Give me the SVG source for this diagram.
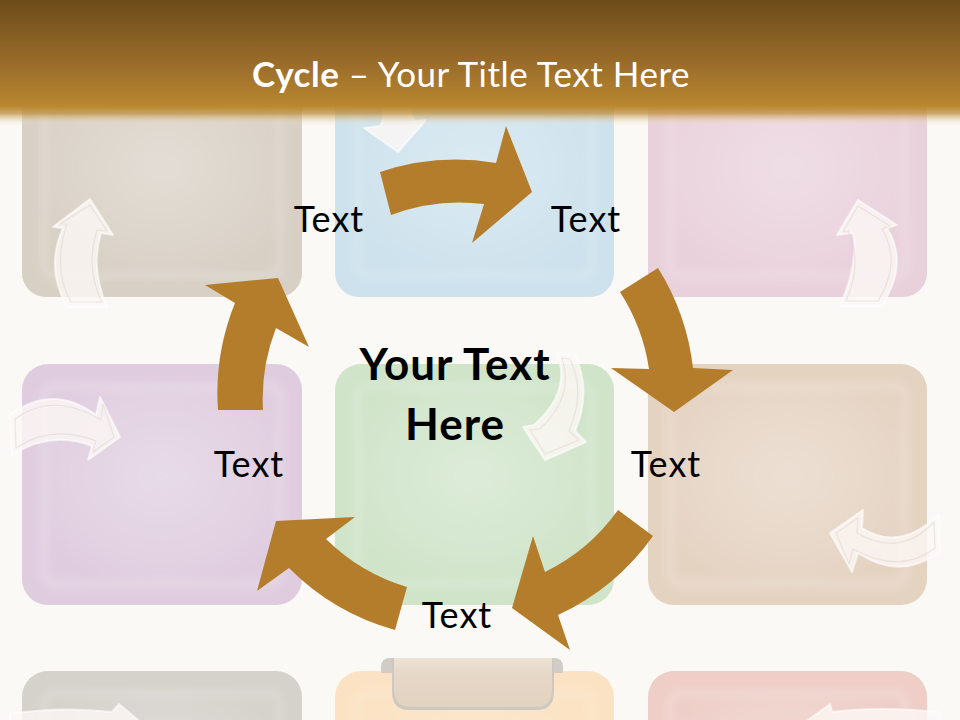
<svg xmlns="http://www.w3.org/2000/svg" width="960" height="720" viewBox="0 0 960 720">
<defs>
<linearGradient id="bar" x1="0" y1="0" x2="0" y2="1">
<stop offset="0" stop-color="#6d4b19"/>
<stop offset="0.5" stop-color="#9a6c2a"/>
<stop offset="0.84" stop-color="#b9872e"/>
<stop offset="0.9" stop-color="#bd8d3a" stop-opacity="0.75"/>
<stop offset="1" stop-color="#f5ede2" stop-opacity="0"/>
</linearGradient>
<radialGradient id="glow" cx="0.5" cy="0.45" r="0.6">
<stop offset="0" stop-color="#ffffff" stop-opacity="0.28"/>
<stop offset="0.7" stop-color="#ffffff" stop-opacity="0.1"/>
<stop offset="1" stop-color="#ffffff" stop-opacity="0"/>
</radialGradient>
<linearGradient id="tabg" x1="0" y1="0" x2="0" y2="1">
<stop offset="0" stop-color="#ede3d6"/>
<stop offset="0.3" stop-color="#e6d8c7"/>
<stop offset="1" stop-color="#e2d2c0"/>
</linearGradient>
<filter id="soft" x="-10%" y="-10%" width="120%" height="120%">
<feGaussianBlur stdDeviation="4"/>
</filter>
<style>
.tile{stroke:none}
.inner{fill:url(#glow);stroke:#ffffff;stroke-opacity:0.22;stroke-width:6;filter:url(#soft)}
.ghost{fill:#fcf8f5;fill-opacity:0.8;stroke:#ffffff;stroke-opacity:0.6;stroke-width:2;stroke-linejoin:round}
.ghost2{fill:none;stroke:#d9cfc8;stroke-opacity:0.45;stroke-width:1.2;stroke-linejoin:round}
.big{fill:#b37d2b;stroke:none}
.lbl{font-family:Lato,"Open Sans","Liberation Sans",sans-serif;font-size:36px;letter-spacing:1px;fill:#000000;text-anchor:middle}
.ctr{font-family:Lato,"Open Sans","Liberation Sans",sans-serif;font-size:44px;letter-spacing:1px;font-weight:bold;fill:#000000;text-anchor:middle}
.ttl{font-family:Lato,"Open Sans","Liberation Sans",sans-serif;font-size:35px;letter-spacing:0.5px;fill:#ffffff;text-anchor:middle}
</style>
</defs>
<rect width="960" height="720" fill="#fbf9f5"/>

<g id="tiles">
<g id="tile-tl"><rect class="tile" x="22" y="57" width="280" height="240" rx="24" fill="#d8d0c5"/><rect class="inner" x="44" y="78" width="236" height="198" rx="10"/></g>
<g id="tile-tm"><rect class="tile" x="335" y="57" width="279" height="240" rx="24" fill="#cde2ed"/><rect class="inner" x="357" y="78" width="235" height="198" rx="10"/></g>
<g id="tile-tr"><rect class="tile" x="648" y="57" width="279" height="240" rx="24" fill="#e9d1db"/><rect class="inner" x="670" y="78" width="235" height="198" rx="10"/></g>
<g id="tile-ml"><rect class="tile" x="22" y="364" width="280" height="241" rx="26" fill="#dfcddf"/><rect class="inner" x="44" y="386" width="236" height="198" rx="10"/></g>
<g id="tile-mc"><rect class="tile" x="335" y="364" width="279" height="241" rx="26" fill="#cfe4c9"/><rect class="inner" x="357" y="386" width="235" height="198" rx="10"/></g>
<g id="tile-mr"><rect class="tile" x="648" y="364" width="279" height="241" rx="26" fill="#e5d3c2"/><rect class="inner" x="670" y="386" width="235" height="198" rx="10"/></g>
<g id="tile-bl"><rect class="tile" x="22" y="671" width="280" height="240" rx="26" fill="#d5d1cb"/><rect class="inner" x="44" y="693" width="236" height="198" rx="10"/></g>
<g id="tile-bm"><rect class="tile" x="335" y="671" width="279" height="240" rx="26" fill="#fbe2c2"/><rect class="inner" x="357" y="693" width="235" height="198" rx="10"/></g>
<g id="tile-br"><rect class="tile" x="648" y="671" width="279" height="240" rx="26" fill="#eecec7"/><rect class="inner" x="670" y="693" width="235" height="198" rx="10"/></g>
</g>

<g id="tab">
<path d="M381,673 L381,667 Q381,658 390,658 L554,658 Q563,658 563,667 L563,673 Z" fill="#d1ccc6"/>
<path d="M392,660 L554,660 L554,692 Q554,710 536,710 L410,710 Q392,710 392,692 Z" fill="#cdc8c1"/>
<path d="M394,658 L552,658 L552,690 Q552,707 535,707 L411,707 Q394,707 394,690 Z" fill="url(#tabg)"/>
</g>

<g id="ghost-arrows">
<path class="ghost" d="M90,199 L113,235 L101,233 Q90,268 107,307 L67,307 Q45,268 63,228 L53,227 Z"/>
<path class="ghost2" d="M90,205 L107,231 L97,230 Q85,268 102,302 L71,302 Q52,268 67,224 L60,224 Z"/>
<path class="ghost" d="M858,200 L897,225 L887,228 Q909,262 882,306 L840,306 Q859,262 853,233 L837,235 Z"/>
<path class="ghost2" d="M858,206 L890,226 L882,229 Q902,262 878,301 L846,301 Q863,262 848,231 L843,232 Z"/>
<path class="ghost" d="M120,437 L88,460 L92,446 Q52,430 12,455 L10,415 Q53,383 96,415 L100,397 Z"/>
<path class="ghost2" d="M114,437 L93,452 L96,441 Q52,424 16,448 L15,419 Q53,391 101,420 L103,404 Z"/>
<path class="ghost" d="M830,533 L863,510 L862,528 Q900,552 938,515 L940,552 Q900,581 858,553 L852,572 Z"/>
<path class="ghost2" d="M836,533 L858,518 L857,533 Q900,558 934,522 L935,548 Q900,575 853,549 L849,564 Z"/>
<path class="ghost" d="M545,460 L586,442 L575,431 Q592,392 575,355 L557,353 Q572,392 534,425 L523,427 Z"/>
<path class="ghost2" d="M545,454 L579,440 L569,431 Q586,392 570,359 L562,358 Q575,396 540,429 L530,430 Z"/>
<path class="ghost" d="M398,152 L426,120 L414,121 Q410,108 405,95 L378,100 Q388,112 380,126 L364,128 Z"/>
<path class="ghost" d="M10,714 Q60,706 112,712 L119,704 L150,730 L10,730 Z"/>
<path class="ghost" d="M800,726 L830,704 L832,712 Q880,706 938,712 L940,730 L800,730 Z"/>
</g>

<g id="titlebar">
<rect x="0" y="0" width="960" height="126" fill="url(#bar)"/>
<text class="ttl" x="471" y="87"><tspan font-weight="bold">Cycle</tspan> – Your Title Text Here</text>
</g>

<g id="connectors">
<path id="arrow1" class="big" d="M380,172 A240,240 0 0 1 496,163 L506,126 L532,192 L472,243 L484,204 A195,195 0 0 0 391,215 Z"/>
<path id="arrow2" class="big" d="M658,268 A240,240 0 0 1 693,368 L733,370 L674,412 L611,368 L649,369 A195,195 0 0 0 620,292 Z"/>
<path id="arrow3" class="big" d="M653,536 A240,240 0 0 1 558,615 L570,650 L512,608 L533,536 L545,572 A195,195 0 0 0 618,510 Z"/>
<path id="arrow4" class="big" d="M395,630 A240,240 0 0 1 289,568 L257,591 L276,521 L355,517 L326,539 A195,195 0 0 0 407,587 Z"/>
<path id="arrow5" class="big" d="M218,410 A240,240 0 0 1 235,303 L205,285 L278,278 L309,347 L276,328 A195,195 0 0 0 263,410 Z"/>
</g>

<g id="node-center"><text class="ctr" x="455" y="380">Your Text</text><text class="ctr" x="455" y="440">Here</text></g>
<g id="node-1"><text class="lbl" x="329" y="232">Text</text></g>
<g id="node-2"><text class="lbl" x="586" y="232">Text</text></g>
<g id="node-3"><text class="lbl" x="666" y="477">Text</text></g>
<g id="node-4"><text class="lbl" x="457" y="628">Text</text></g>
<g id="node-5"><text class="lbl" x="249" y="477">Text</text></g>
</svg>
